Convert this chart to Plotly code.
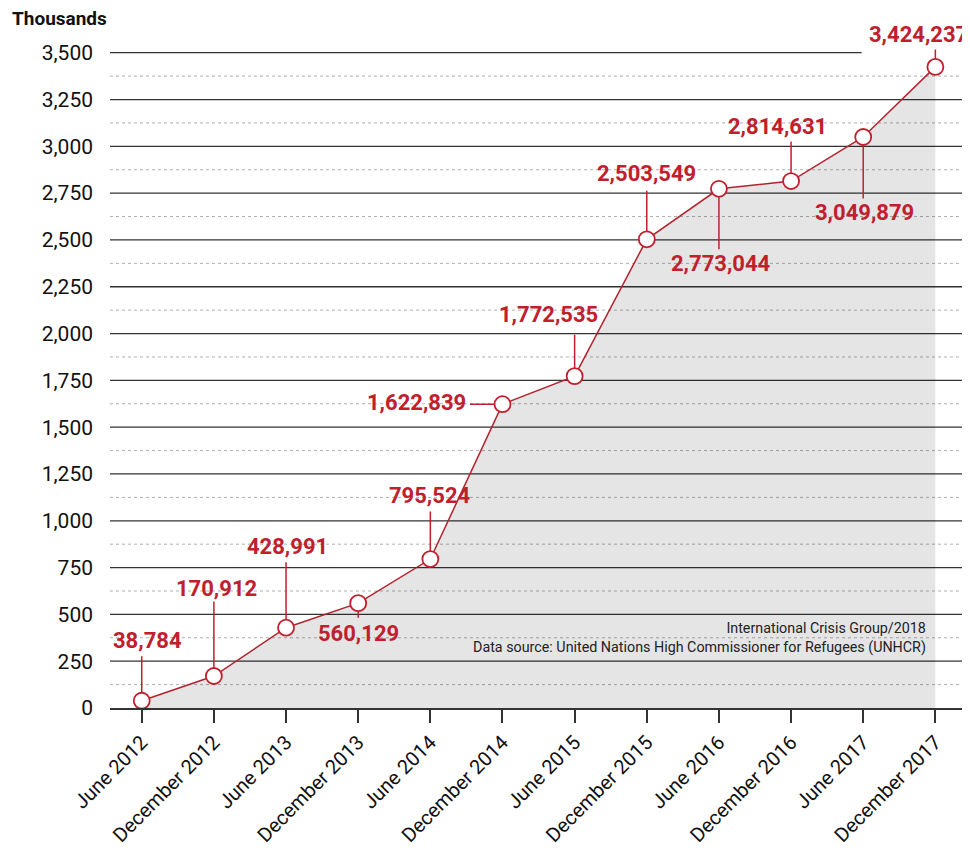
import plotly.graph_objects as go

categories = ["June 2012", "December 2012", "June 2013", "December 2013", "June 2014",
              "December 2014", "June 2015", "December 2015", "June 2016", "December 2016",
              "June 2017", "December 2017"]
values = [38784, 170912, 428991, 560129, 795524, 1622839, 1772535, 2503549,
          2773044, 2814631, 3049879, 3424237]
values_k = [v / 1000 for v in values]
major_ticks = [0, 250, 500, 750, 1000, 1250, 1500, 1750, 2000, 2250, 2500, 2750, 3000, 3250, 3500]
tick_text = ["{:,}".format(t) for t in major_ticks]

# leader line offsets (px) and label offsets (px)
line_off = [(0, -46), (0, -76), (0, -67), (0, 16), (0, -49), (-34, 0), (0, -43),
            (0, -50), (0, 62), (0, -41), (0, 63), (0, -19)]
label_off = [(6, 60), (3, 88), (1, 81), (0, -30), (0, 64), (-86, 2), (-26, 62),
             (0, 66), (2, -75), (-14, 55), (1, -76), (-17, 32)]

RED = "#c0202e"
FONT = "Roboto, Liberation Sans, sans-serif"

fig = go.Figure()
fig.add_trace(go.Scatter(
    x=categories, y=values_k, mode="lines+markers",
    line=dict(color="#b3232f", width=1.5),
    marker=dict(size=16, color="white", line=dict(color=RED, width=1.8)),
    fill="tozeroy", fillcolor="rgba(0,0,0,0.10)",
    hoverinfo="skip", showlegend=False,
))

shapes = []
for t in major_ticks[1:]:
    x1 = 0.874 if t == 3500 else 1
    shapes.append(dict(type="line", xref="paper", yref="y", x0=0, x1=x1, y0=t, y1=t,
                       line=dict(color="#333333", width=1.3), layer="below"))
for t in major_ticks[:-1]:
    shapes.append(dict(type="line", xref="paper", yref="y", x0=0, x1=1, y0=t + 125, y1=t + 125,
                       line=dict(color="#b0b0b0", width=1, dash="dot"), layer="below"))

annotations = []
for c, v, v_raw, (lx, ly), (tx, ty) in zip(categories, values_k, values, line_off, label_off):
    annotations.append(dict(x=c, y=v, xref="x", yref="y", text="", showarrow=True,
                            arrowhead=0, arrowwidth=1.5, arrowcolor=RED, ax=lx, ay=ly,
                            standoff=8))
    annotations.append(dict(x=c, y=v, xref="x", yref="y", text="<b>{:,}</b>".format(v_raw),
                            showarrow=False, xshift=tx, yshift=ty,
                            font=dict(family=FONT, size=22, color=RED)))

annotations.append(dict(x=(10 - 110) / 860, y=1 + (34 - 18) / 674, xref="paper", yref="paper",
                        xanchor="left", yanchor="middle",
                        text="<b>Thousands</b>", showarrow=False,
                        font=dict(family=FONT, size=19, color="#111111")))
annotations.append(dict(x=(928 - 110) / 860, y=(708 - 638) / 674, xref="paper", yref="paper",
                        xanchor="right", yanchor="middle", showarrow=False, align="right",
                        text="International Crisis Group/2018<br>Data source: United Nations High Commissioner for Refugees (UNHCR)",
                        font=dict(family=FONT, size=14.3, color="#222222")))

# the page adds an 8px body margin, so the figure is drawn 8px smaller and shifted
fig.update_layout(
    width=962, height=842,
    margin=dict(l=102, r=0, t=26, b=142),
    plot_bgcolor="white", paper_bgcolor="white",
    shapes=shapes, annotations=annotations,
    font=dict(family=FONT, color="#222222"),
    xaxis=dict(range=[-0.44, 11.48], showgrid=False, showline=True, linecolor="#333333",
               linewidth=1.5, ticks="outside", ticklen=13, tickcolor="#333333", tickwidth=1.5,
               tickangle=-45, tickfont=dict(family=FONT, size=20, color="#111111"),
               zeroline=False, fixedrange=True, automargin=False),
    yaxis=dict(range=[0, 3600], showgrid=False, zeroline=False, tickvals=major_ticks,
               ticktext=tick_text, ticks="", ticklabelstandoff=16,
               tickfont=dict(family=FONT, size=21, color="#111111"), fixedrange=True,
               automargin=False),
)

fig.write_html("out.html")
